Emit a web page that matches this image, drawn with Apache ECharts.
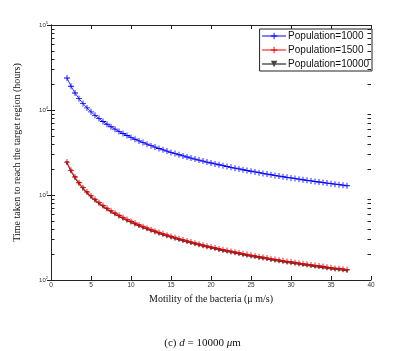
<!DOCTYPE html>
<html>
<head>
<meta charset="utf-8">
<script src="https://cdn.jsdelivr.net/npm/echarts@6/dist/echarts.min.js"></script>
<style>
  html, body { margin: 0; padding: 0; background: #fff; }
  #main { width: 405px; height: 351px; }
</style>
</head>
<body>
<div id="main"></div>
<script>
// motility (um/s)
var motility = [2, 2.5, 3, 3.5, 4, 4.5, 5, 5.5, 6, 6.5, 7, 7.5, 8, 8.5, 9, 9.5, 10, 10.5, 11, 11.5,
  12, 12.5, 13, 13.5, 14, 14.5, 15, 15.5, 16, 16.5, 17, 17.5, 18, 18.5, 19, 19.5, 20, 20.5, 21, 21.5,
  22, 22.5, 23, 23.5, 24, 24.5, 25, 25.5, 26, 26.5, 27, 27.5, 28, 28.5, 29, 29.5, 30, 30.5, 31, 31.5,
  32, 32.5, 33, 33.5, 34, 34.5, 35, 35.5, 36, 36.5, 37];

// time (hours)
var pop1000 = [23800, 19040, 15867, 13600, 11900, 10578, 9520, 8655, 7933, 7323, 6800, 6347, 5950, 5600, 5289, 5011,
  4760, 4533, 4327, 4139, 3967, 3808, 3662, 3526, 3400, 3283, 3173, 3071, 2975, 2885, 2800, 2720, 2644, 2573,
  2505, 2441, 2380, 2322, 2267, 2214, 2164, 2116, 2070, 2026, 1983, 1943, 1904, 1867, 1831, 1796, 1763, 1731,
  1700, 1670, 1641, 1614, 1587, 1561, 1535, 1511, 1488, 1465, 1442, 1421, 1400, 1380, 1360, 1341, 1322, 1304, 1286];

var pop1500 = [2440, 1952, 1627, 1394, 1220, 1084, 976, 887, 813, 751, 697, 651, 610, 574, 542, 514, 488, 465, 444,
  424, 407, 390, 375, 361, 349, 337, 325, 315, 305, 296, 287, 279, 271, 264, 257, 250, 244, 238, 232, 227, 222,
  217, 212, 208, 203, 199, 195, 191, 188, 184, 181, 177, 174, 171, 168, 165, 163, 160, 157, 155, 153, 150, 148,
  146, 144, 141, 139, 137, 136, 134, 132];

var pop10000 = [2370, 1895, 1580, 1354, 1185, 1053, 948, 862, 790, 729, 677, 632, 592, 557, 527, 499, 474, 451, 431,
  412, 395, 379, 365, 351, 339, 327, 316, 306, 296, 287, 279, 271, 263, 256, 249, 243, 237, 231, 225, 220, 215,
  211, 206, 202, 197, 193, 189, 186, 182, 179, 176, 172, 169, 166, 163, 160, 158, 155, 153, 150, 148, 146, 143,
  141, 139, 137, 135, 133, 132, 130, 128];

var yDecades = [100, 1000, 10000, 100000];

var plusPath = 'path://M-0.14,-1H0.14V-0.14H1V0.14H0.14V1H-0.14V0.14H-1V-0.14H-0.14Z';

function pairs(ys) {
  var out = [];
  for (var i = 0; i < motility.length; i++) out.push([motility[i], ys[i]]);
  return out;
}

var chart = echarts.init(document.getElementById('main'));

var axisLine = { show: true, lineStyle: { color: '#222', width: 1 } };
var tick = { show: true, inside: true, length: 4, lineStyle: { color: '#222' } };

var option = {
  backgroundColor: '#fff',
  animation: false,
  title: {
    text: '(c) {i|d} = 10000 {i|μ}m',
    left: 'center',
    top: 333,
    textStyle: {
      fontFamily: 'Liberation Serif',
      fontSize: 11,
      fontWeight: 'normal',
      color: '#111',
      rich: { i: { fontFamily: 'Liberation Serif', fontSize: 11, fontStyle: 'italic', color: '#111' } }
    }
  },
  grid: { left: 51, right: 34, top: 25, bottom: 71, outerBoundsMode: 'none' },
  legend: {
    orient: 'vertical',
    right: 33,
    top: 29,
    backgroundColor: '#fff',
    borderColor: '#222',
    borderWidth: 1,
    padding: [2, 3, 2, 2],
    itemWidth: 24,
    itemHeight: 8,
    itemGap: 4,
    lineStyle: { width: 1 },
    textStyle: { fontFamily: 'Liberation Sans', fontSize: 10, color: '#111', padding: [0, 0, 0, -3] },
    data: ['Population=1000', 'Population=1500', 'Population=10000']
  },
  xAxis: [{
    type: 'value',
    min: 0, max: 40, interval: 5,
    name: 'Motility of the bacteria (μ m/s)',
    nameLocation: 'middle',
    nameGap: 11,
    nameTextStyle: { fontFamily: 'Liberation Serif', fontSize: 10, color: '#111' },
    axisLine: axisLine,
    axisTick: tick,
    axisLabel: { fontFamily: 'Liberation Sans', fontSize: 6.5, color: '#333', margin: 2 },
    splitLine: { show: false }
  }, {
    type: 'value',
    position: 'top',
    min: 0, max: 40, interval: 5,
    axisLine: axisLine,
    axisTick: tick,
    axisLabel: { show: false },
    splitLine: { show: false }
  }],
  yAxis: [{
    type: 'log',
    logBase: 10,
    min: 100, max: 100000,
    interval: 1,
    name: 'Time taken to reach the target region (hours)',
    nameLocation: 'middle',
    nameGap: 29,
    nameRotate: 90,
    nameTextStyle: { fontFamily: 'Liberation Serif', fontSize: 10, color: '#111' },
    axisLine: axisLine,
    axisTick: tick,
    axisLabel: {
      margin: 3,
      formatter: function (v) {
        var e = Math.round(Math.log10(v));
        return '{b|10}{s|' + e + '}';
      },
      rich: {
        b: { fontFamily: 'Liberation Sans', fontSize: 6, color: '#333' },
        s: { fontFamily: 'Liberation Sans', fontSize: 4, color: '#333', verticalAlign: 'top', padding: [0, 0, 5, 0] }
      }
    },
    splitLine: { show: false }
  }, {
    type: 'log',
    logBase: 10,
    position: 'right',
    min: 100, max: 100000,
    interval: 1,
    axisLine: axisLine,
    axisTick: tick,
    axisLabel: { show: false },
    splitLine: { show: false }
  }],
  series: [{
    name: 'Population=1000',
    type: 'line',
    data: pairs(pop1000),
    symbol: plusPath,
    symbolSize: 6,
    showAllSymbol: true,
    color: '#0000ff',
    itemStyle: { color: '#0000ff' },
    lineStyle: { color: '#0000ff', width: 0.8 },
    z: 3
  }, {
    name: 'Population=1500',
    type: 'line',
    data: pairs(pop1500),
    symbol: plusPath,
    symbolSize: 6,
    showAllSymbol: true,
    color: '#ff0000',
    itemStyle: { color: '#e00000' },
    lineStyle: { color: '#ff0000', width: 0.8 },
    z: 3
  }, {
    name: 'Population=10000',
    type: 'line',
    data: pairs(pop10000),
    symbol: 'triangle',
    symbolRotate: 180,
    symbolSize: 4,
    showAllSymbol: true,
    color: '#000',
    itemStyle: { color: '#444' },
    lineStyle: { color: '#000', width: 0.8 },
    z: 2
  }]
};

chart.setOption(option);

// log minor ticks (2..9 x 10^n) on left and right, placed through the axis scale
var minor = [];
var leftX = Math.round(chart.convertToPixel({ xAxisIndex: 0 }, 0));
var rightX = Math.round(chart.convertToPixel({ xAxisIndex: 0 }, 40));
for (var d = 0; d < yDecades.length - 1; d++) {
  for (var m = 2; m <= 9; m++) {
    var py = Math.round(chart.convertToPixel({ yAxisIndex: 0 }, yDecades[d] * m)) + 0.5;
    minor.push({ type: 'line', z: 100, shape: { x1: leftX, y1: py, x2: leftX + 3.5, y2: py }, style: { stroke: '#222', lineWidth: 1 }, silent: true });
    minor.push({ type: 'line', z: 100, shape: { x1: rightX - 3.5, y1: py, x2: rightX, y2: py }, style: { stroke: '#222', lineWidth: 1 }, silent: true });
  }
}
chart.setOption({ graphic: minor });
</script>
</body>
</html>
